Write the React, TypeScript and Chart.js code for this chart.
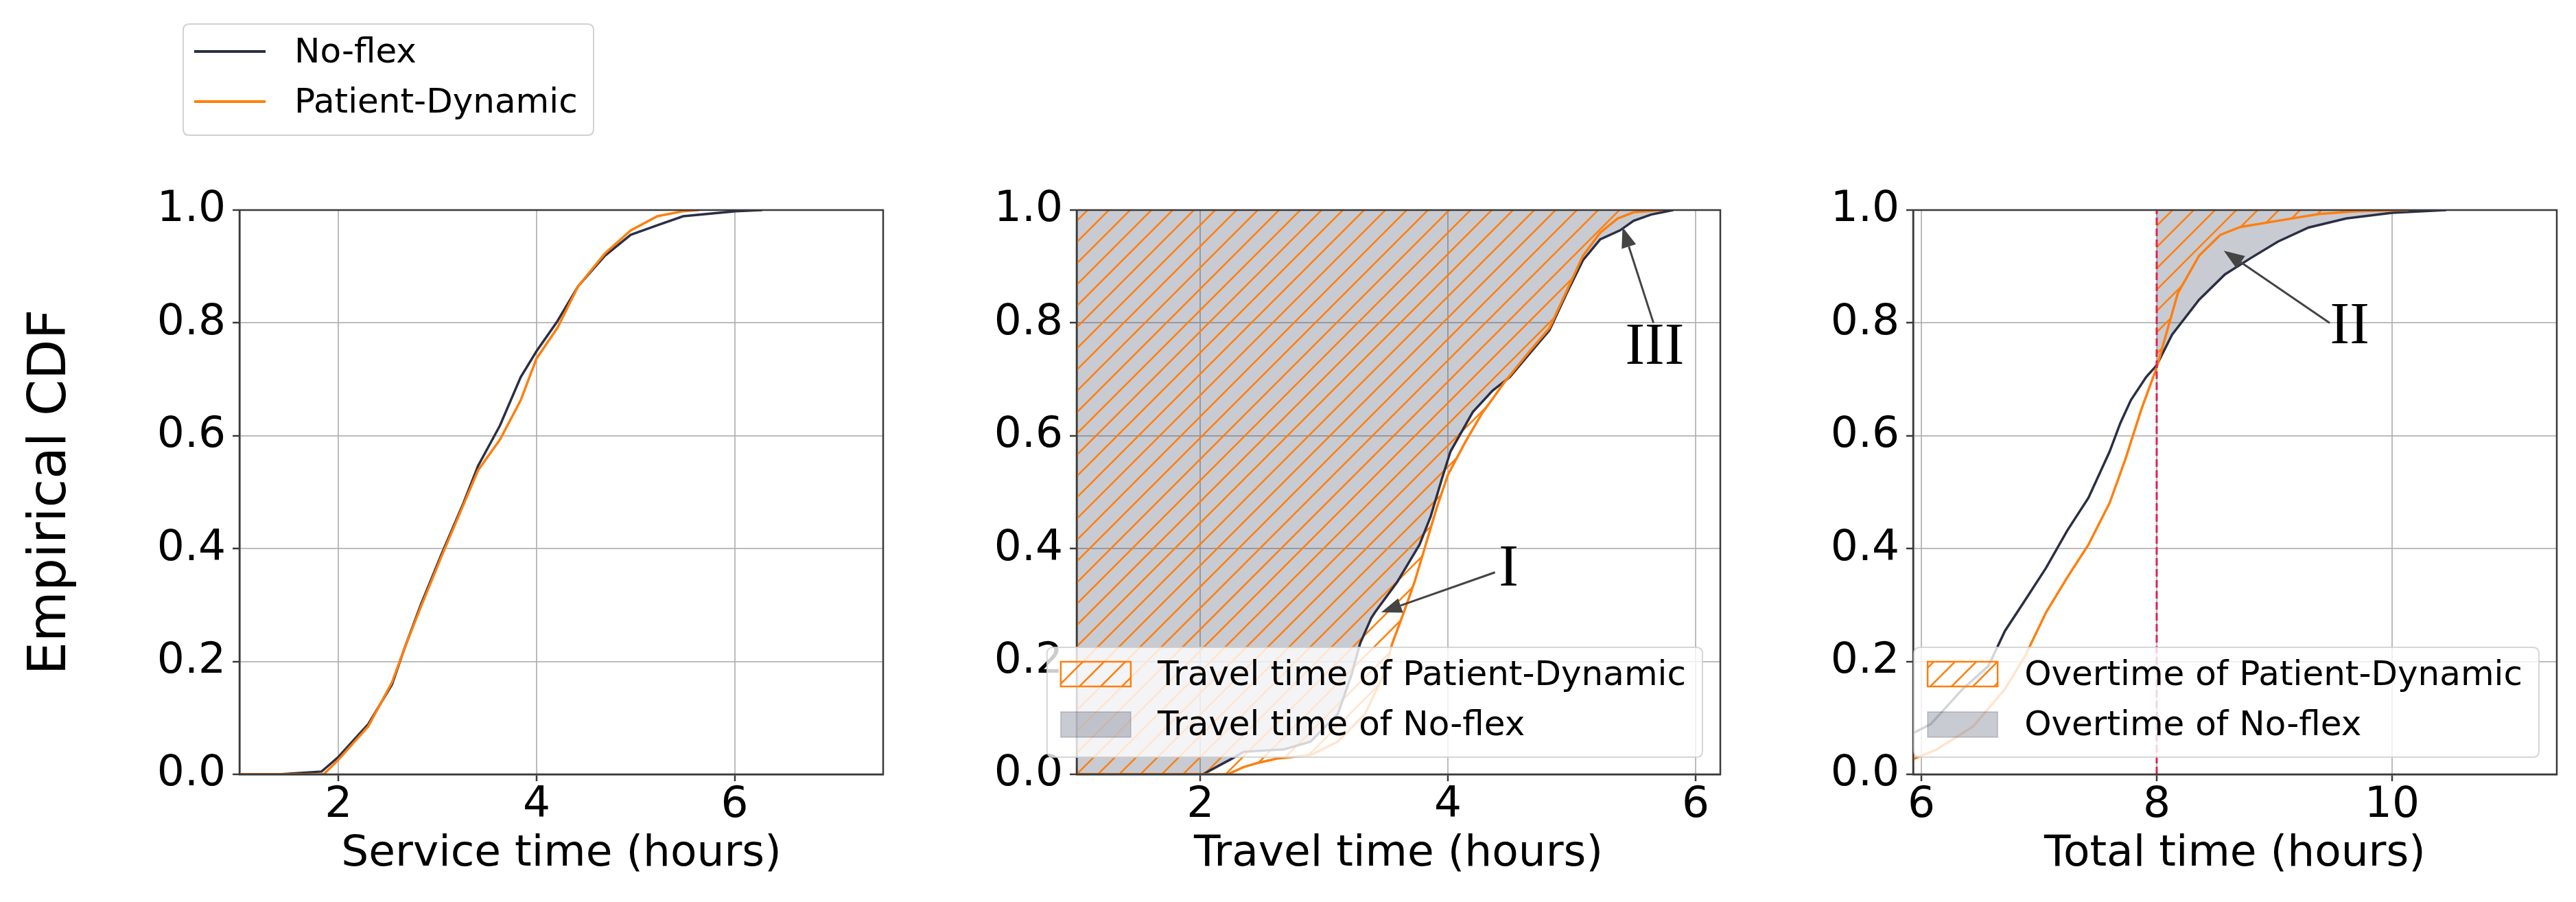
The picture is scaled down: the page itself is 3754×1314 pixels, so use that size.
import React, { useEffect, useRef } from 'react';
import { Chart, registerables } from 'chart.js';

Chart.register(...registerables);

// ---------------- data ----------------
const seriesNames = ['No-flex', 'Patient-Dynamic'];

// Panel 1: service time
const serviceNoFlexX = [1.0, 1.40, 1.83, 2.00, 2.30, 2.54, 2.67, 2.83, 3.04, 3.26, 3.41, 3.63, 3.84, 4.00, 4.21, 4.42, 4.69, 4.95, 5.22, 5.48, 6.01, 6.28];
const serviceNoFlexY = [0, 0, 0.005, 0.031, 0.089, 0.159, 0.225, 0.300, 0.390, 0.480, 0.547, 0.618, 0.704, 0.750, 0.803, 0.865, 0.919, 0.956, 0.973, 0.989, 0.998, 1.0];
const servicePatientX = [1.0, 1.85, 2.00, 2.30, 2.54, 2.67, 2.83, 3.04, 3.26, 3.41, 3.63, 3.84, 4.00, 4.21, 4.42, 4.69, 4.95, 5.22, 5.48, 5.64];
const servicePatientY = [0, 0, 0.026, 0.085, 0.163, 0.225, 0.296, 0.386, 0.477, 0.539, 0.593, 0.663, 0.737, 0.791, 0.865, 0.923, 0.964, 0.989, 0.998, 1.0];

// Panel 2: travel time
const travelNoFlexX = [1.0, 2.02, 2.18, 2.24, 2.35, 2.67, 2.89, 3.11, 3.22, 3.29, 3.38, 3.41, 3.59, 3.77, 3.86, 3.95, 4.02, 4.20, 4.36, 4.50, 4.66, 4.82, 4.96, 5.09, 5.23, 5.39, 5.50, 5.64, 5.82];
const travelNoFlexY = [0, 0, 0.019, 0.026, 0.040, 0.044, 0.058, 0.107, 0.176, 0.232, 0.277, 0.287, 0.341, 0.407, 0.457, 0.523, 0.572, 0.642, 0.680, 0.704, 0.746, 0.787, 0.853, 0.911, 0.948, 0.964, 0.981, 0.992, 1.0];
const travelPatientX = [1.0, 2.22, 2.35, 2.46, 2.62, 2.89, 3.11, 3.33, 3.48, 3.55, 3.64, 3.73, 3.82, 3.91, 4.00, 4.14, 4.27, 4.46, 4.66, 4.82, 4.96, 5.09, 5.23, 5.37, 5.50, 5.73];
const travelPatientY = [0, 0, 0.013, 0.020, 0.028, 0.034, 0.058, 0.107, 0.176, 0.232, 0.285, 0.341, 0.407, 0.473, 0.531, 0.589, 0.638, 0.696, 0.750, 0.791, 0.857, 0.919, 0.960, 0.985, 0.996, 1.0];

// Panel 3: total time
const totalNoFlexX = [5.93, 6.08, 6.35, 6.57, 6.71, 6.88, 7.06, 7.24, 7.42, 7.60, 7.69, 7.78, 7.91, 8.00, 8.13, 8.36, 8.58, 8.80, 9.03, 9.29, 9.61, 10.00, 10.46];
const totalNoFlexY = [0.073, 0.089, 0.151, 0.192, 0.254, 0.308, 0.366, 0.432, 0.490, 0.572, 0.622, 0.663, 0.704, 0.725, 0.779, 0.841, 0.886, 0.915, 0.944, 0.969, 0.985, 0.995, 1.0];
const totalPatientX = [5.93, 6.13, 6.44, 6.71, 6.88, 7.06, 7.24, 7.42, 7.60, 7.73, 7.87, 8.00, 8.09, 8.18, 8.36, 8.54, 8.71, 9.03, 9.38, 9.70, 10.14];
const totalPatientY = [0.027, 0.044, 0.085, 0.151, 0.209, 0.287, 0.349, 0.407, 0.481, 0.556, 0.647, 0.721, 0.787, 0.853, 0.919, 0.956, 0.970, 0.981, 0.993, 0.998, 1.0];
const overtimeThreshold = 8;

// axes
const yTickValues = [0, 0.2, 0.4, 0.6, 0.8, 1.0];
const serviceXTicks = [2, 4, 6];
const travelXTicks = [2, 4, 6];
const totalXTicks = [6, 8, 10];
const serviceXRange = [1.0, 7.5];
const travelXRange = [1.0, 6.2];
const totalXRange = [5.93, 11.4];
const xTitles = ['Service time (hours)', 'Travel time (hours)', 'Total time (hours)'];
const yTitle = 'Empirical CDF';
const travelLegend = ['Travel time of Patient-Dynamic', 'Travel time of No-flex'];
const overtimeLegend = ['Overtime of Patient-Dynamic', 'Overtime of No-flex'];

// annotations: label, text position, arrow start, arrow tip (data coordinates)
const travelNotes = [
  { label: 'I', tx: 4.49, ty: 0.364, fx: 4.38, fy: 0.358, ax: 3.46, ay: 0.287 },
  { label: 'III', tx: 5.67, ty: 0.757, fx: 5.66, fy: 0.80, ax: 5.41, ay: 0.970 },
];
const totalNotes = [
  { label: 'II', tx: 9.64, ty: 0.794, fx: 9.47, fy: 0.80, ax: 8.57, ay: 0.928 },
];

// ---------------- styling / layout ----------------
const PAGE_W = 3754;
const PAGE_H = 1314;
const PLOT_TOP = 306;
const PLOT_BOTTOM = 1128;
const X_AXIS_H = 154;
const FONT = '"DejaVu Sans"';
const SERIF = '"Liberation Serif", "DejaVu Serif", serif';
const NAVY = '#2b2f45';
const ORANGE = '#ff7f0e';
const GRAY_FILL = 'rgba(45,55,80,0.26)';
const SPINE = '#3a3a3a';
const GRID = 'rgba(176,176,176,0.85)';
const RED = '#e0204f';
const TICK_SIZE = 63;
const LEGEND_SIZE = 50;

const pts = (xs: number[], ys: number[]) => xs.map((x, i) => ({ x, y: ys[i] }));
const from = (xs: number[], ys: number[], x0: number) =>
  pts(xs, ys).filter((p) => p.x >= x0);

function makeHatch(color: string): CanvasPattern {
  const s = 31;
  const c = document.createElement('canvas');
  c.width = s;
  c.height = s;
  const g = c.getContext('2d')!;
  g.strokeStyle = color;
  g.lineWidth = 2.6;
  for (const k of [-1, 0, 1]) {
    g.beginPath();
    g.moveTo(-3, s + k * s + 3);
    g.lineTo(s + 3, k * s - 3);
    g.stroke();
  }
  return g.createPattern(c, 'repeat')!;
}

function roundRect(ctx: CanvasRenderingContext2D, x: number, y: number, w: number, h: number, r: number) {
  ctx.beginPath();
  ctx.moveTo(x + r, y);
  ctx.lineTo(x + w - r, y);
  ctx.quadraticCurveTo(x + w, y, x + w, y + r);
  ctx.lineTo(x + w, y + h - r);
  ctx.quadraticCurveTo(x + w, y + h, x + w - r, y + h);
  ctx.lineTo(x + r, y + h);
  ctx.quadraticCurveTo(x, y + h, x, y + h - r);
  ctx.lineTo(x, y + r);
  ctx.quadraticCurveTo(x, y, x + r, y);
  ctx.closePath();
}

function arrow(ctx: CanvasRenderingContext2D, x0: number, y0: number, x1: number, y1: number) {
  const ang = Math.atan2(y1 - y0, x1 - x0);
  const hl = 30;
  const hw = 11;
  const bx = x1 - hl * Math.cos(ang);
  const by = y1 - hl * Math.sin(ang);
  ctx.beginPath();
  ctx.moveTo(x0, y0);
  ctx.lineTo(bx, by);
  ctx.stroke();
  ctx.beginPath();
  ctx.moveTo(x1, y1);
  ctx.lineTo(bx + hw * Math.sin(ang), by - hw * Math.cos(ang));
  ctx.lineTo(bx - hw * Math.sin(ang), by + hw * Math.cos(ang));
  ctx.closePath();
  ctx.fill();
}

const framePlugin = {
  id: 'frame',
  afterDatasetsDraw(chart: any) {
    const { ctx, chartArea: a } = chart;
    ctx.save();
    ctx.strokeStyle = SPINE;
    ctx.lineWidth = 2.5;
    ctx.strokeRect(a.left, a.top, a.right - a.left, a.bottom - a.top);
    ctx.restore();
  },
};

function notesPlugin(notes: typeof travelNotes) {
  return {
    id: 'notes',
    afterDraw(chart: any) {
      const { ctx } = chart;
      const xs = chart.scales.x;
      const ys = chart.scales.y;
      ctx.save();
      ctx.strokeStyle = '#444';
      ctx.fillStyle = '#444';
      ctx.lineWidth = 3;
      for (const n of notes) {
        arrow(ctx, xs.getPixelForValue(n.fx), ys.getPixelForValue(n.fy), xs.getPixelForValue(n.ax), ys.getPixelForValue(n.ay));
      }
      ctx.fillStyle = '#000';
      ctx.font = `86px ${SERIF}`;
      ctx.textAlign = 'center';
      ctx.textBaseline = 'middle';
      for (const n of notes) {
        ctx.fillText(n.label, xs.getPixelForValue(n.tx), ys.getPixelForValue(n.ty) + 2);
      }
      ctx.restore();
    },
  };
}

function areaLegendPlugin(labels: string[], hatch: CanvasPattern) {
  return {
    id: 'areaLegend',
    afterDraw(chart: any) {
      const { ctx, chartArea: a } = chart;
      ctx.save();
      ctx.font = `${LEGEND_SIZE}px ${FONT}`;
      const tw = Math.max(...labels.map((t) => ctx.measureText(t).width));
      const w = 161 + tw + 24;
      const h = 160;
      const x = a.right - 26 - w;
      const y = a.bottom - 25 - h;
      roundRect(ctx, x, y, w, h, 9);
      ctx.fillStyle = 'rgba(255,255,255,0.8)';
      ctx.fill();
      ctx.strokeStyle = 'rgba(204,204,204,0.8)';
      ctx.lineWidth = 2;
      ctx.stroke();
      // hatched patch
      ctx.fillStyle = hatch;
      ctx.fillRect(x + 20, y + 21, 102, 36);
      ctx.strokeStyle = ORANGE;
      ctx.lineWidth = 2.5;
      ctx.strokeRect(x + 20, y + 21, 102, 36);
      // gray patch
      ctx.fillStyle = GRAY_FILL;
      ctx.fillRect(x + 20, y + 94, 102, 37);
      ctx.strokeStyle = 'rgba(45,55,80,0.25)';
      ctx.lineWidth = 1.5;
      ctx.strokeRect(x + 20, y + 94, 102, 37);
      ctx.fillStyle = '#000';
      ctx.textBaseline = 'middle';
      ctx.textAlign = 'left';
      ctx.fillText(labels[0], x + 161, y + 39 + 3);
      ctx.fillText(labels[1], x + 161, y + 112 + 3);
      ctx.restore();
    },
  };
}

const seriesLegendPlugin = {
  id: 'seriesLegend',
  afterDraw(chart: any) {
    const { ctx } = chart;
    ctx.save();
    roundRect(ctx, 267, 35, 598, 162, 9);
    ctx.fillStyle = 'rgba(255,255,255,0.8)';
    ctx.fill();
    ctx.strokeStyle = 'rgba(204,204,204,0.9)';
    ctx.lineWidth = 2;
    ctx.stroke();
    const rows = [75, 148];
    const colors = [NAVY, ORANGE];
    ctx.lineWidth = 4;
    ctx.font = `${LEGEND_SIZE}px ${FONT}`;
    ctx.textBaseline = 'middle';
    seriesNames.forEach((name, i) => {
      ctx.strokeStyle = colors[i];
      ctx.beginPath();
      ctx.moveTo(283, rows[i]);
      ctx.lineTo(387, rows[i]);
      ctx.stroke();
      ctx.fillStyle = '#000';
      ctx.fillText(name, 429, rows[i] + 3);
    });
    ctx.restore();
  },
};

function lineDs(label: string, data: any[], color: string, order: number) {
  return {
    label,
    data,
    borderColor: color,
    backgroundColor: color,
    borderWidth: 3.5,
    pointRadius: 0,
    tension: 0,
    fill: false,
    order,
  };
}

function fillDs(label: string, data: any[], bg: any, order: number) {
  return {
    label,
    data,
    borderColor: 'rgba(0,0,0,0)',
    borderWidth: 0,
    backgroundColor: bg,
    pointRadius: 0,
    tension: 0,
    fill: 'end',
    order,
  };
}

interface PanelSpec {
  left: number;
  right: number;
  yAxisW: number;
  range: number[];
  xTicks: number[];
  xTitle: string;
  withYTitle: boolean;
  datasets: any[];
  plugins: any[];
}

function buildConfig(p: PanelSpec): any {
  return {
    type: 'line',
    data: { datasets: p.datasets },
    options: {
      responsive: false,
      maintainAspectRatio: false,
      animation: false,
      devicePixelRatio: 1,
      events: [],
      layout: {
        padding: {
          left: p.left - p.yAxisW,
          right: PAGE_W - p.right,
          top: PLOT_TOP,
          bottom: PAGE_H - PLOT_BOTTOM - X_AXIS_H,
        },
      },
      plugins: { legend: { display: false }, tooltip: { enabled: false }, title: { display: false } },
      scales: {
        x: {
          type: 'linear',
          min: p.range[0],
          max: p.range[1],
          afterBuildTicks: (s: any) => {
            s.ticks = p.xTicks.map((v) => ({ value: v }));
          },
          afterFit: (s: any) => {
            s.height = X_AXIS_H;
          },
          grid: { color: GRID, lineWidth: 2, tickColor: SPINE, tickWidth: 2.5, tickLength: 10, drawTicks: true },
          border: { display: true, color: SPINE, width: 2.5 },
          ticks: {
            color: '#000',
            font: { family: FONT, size: TICK_SIZE, lineHeight: 1 },
            padding: 4.5,
            maxRotation: 0,
            autoSkip: false,
            callback: (v: any) => String(v),
          },
          title: {
            display: true,
            text: p.xTitle,
            color: '#000',
            font: { family: FONT, size: TICK_SIZE, lineHeight: 1.2 },
            padding: 0,
          },
        },
        y: {
          type: 'linear',
          min: 0,
          max: 1,
          afterBuildTicks: (s: any) => {
            s.ticks = yTickValues.map((v) => ({ value: v }));
          },
          afterFit: (s: any) => {
            s.width = p.yAxisW;
          },
          grid: { color: GRID, lineWidth: 2, tickColor: SPINE, tickWidth: 2.5, tickLength: 10, drawTicks: true },
          border: { display: true, color: SPINE, width: 2.5 },
          ticks: {
            color: '#000',
            font: { family: FONT, size: TICK_SIZE, lineHeight: 1 },
            padding: 10,
            autoSkip: false,
            callback: (v: any) => Number(v).toFixed(1),
          },
          title: {
            display: p.withYTitle,
            text: yTitle,
            color: '#000',
            font: { family: FONT, size: 76, lineHeight: 1.2 },
            padding: 0,
          },
        },
      },
    },
    plugins: p.plugins,
  };
}

export default function App() {
  const r1 = useRef<HTMLCanvasElement>(null);
  const r2 = useRef<HTMLCanvasElement>(null);
  const r3 = useRef<HTMLCanvasElement>(null);

  useEffect(() => {
    Chart.defaults.font.family = FONT;
    const hatch = makeHatch(ORANGE);

    const c1 = new Chart(
      r1.current!,
      buildConfig({
        left: 349,
        right: 1287,
        yAxisW: 319,
        range: serviceXRange,
        xTicks: serviceXTicks,
        xTitle: xTitles[0],
        withYTitle: true,
        datasets: [
          lineDs(seriesNames[0], pts(serviceNoFlexX, serviceNoFlexY), NAVY, 2),
          lineDs(seriesNames[1], pts(servicePatientX, servicePatientY), ORANGE, 1),
        ],
        plugins: [framePlugin, seriesLegendPlugin],
      })
    );

    const c2 = new Chart(
      r2.current!,
      buildConfig({
        left: 1569,
        right: 2507,
        yAxisW: 200,
        range: travelXRange,
        xTicks: travelXTicks,
        xTitle: xTitles[1],
        withYTitle: false,
        datasets: [
          fillDs(travelLegend[1], pts(travelNoFlexX, travelNoFlexY), GRAY_FILL, 4),
          fillDs(travelLegend[0], pts(travelPatientX, travelPatientY), hatch, 3),
          lineDs(seriesNames[0], pts(travelNoFlexX, travelNoFlexY), NAVY, 2),
          lineDs(seriesNames[1], pts(travelPatientX, travelPatientY), ORANGE, 1),
        ],
        plugins: [framePlugin, notesPlugin(travelNotes), areaLegendPlugin(travelLegend, hatch)],
      })
    );

    const c3 = new Chart(
      r3.current!,
      buildConfig({
        left: 2788,
        right: 3726,
        yAxisW: 200,
        range: totalXRange,
        xTicks: totalXTicks,
        xTitle: xTitles[2],
        withYTitle: false,
        datasets: [
          fillDs(overtimeLegend[1], from(totalNoFlexX, totalNoFlexY, overtimeThreshold), GRAY_FILL, 4),
          fillDs(overtimeLegend[0], from(totalPatientX, totalPatientY, overtimeThreshold), hatch, 3),
          lineDs(seriesNames[0], pts(totalNoFlexX, totalNoFlexY), NAVY, 2),
          lineDs(seriesNames[1], pts(totalPatientX, totalPatientY), ORANGE, 1),
          {
            label: '8-hour limit',
            data: [
              { x: overtimeThreshold, y: 0 },
              { x: overtimeThreshold, y: 1 },
            ],
            borderColor: RED,
            borderWidth: 3,
            borderDash: [11, 5],
            pointRadius: 0,
            fill: false,
            order: 0,
          },
        ],
        plugins: [framePlugin, notesPlugin(totalNotes), areaLegendPlugin(overtimeLegend, hatch)],
      })
    );

    return () => {
      c1.destroy();
      c2.destroy();
      c3.destroy();
    };
  }, []);

  const cs: React.CSSProperties = { position: 'absolute', left: 0, top: 0, width: PAGE_W, height: PAGE_H };
  return (
    <div style={{ position: 'fixed', left: 0, top: 0, width: PAGE_W, height: PAGE_H, background: '#fff' }}>
      <canvas ref={r1} width={PAGE_W} height={PAGE_H} style={cs} />
      <canvas ref={r2} width={PAGE_W} height={PAGE_H} style={cs} />
      <canvas ref={r3} width={PAGE_W} height={PAGE_H} style={cs} />
    </div>
  );
}
